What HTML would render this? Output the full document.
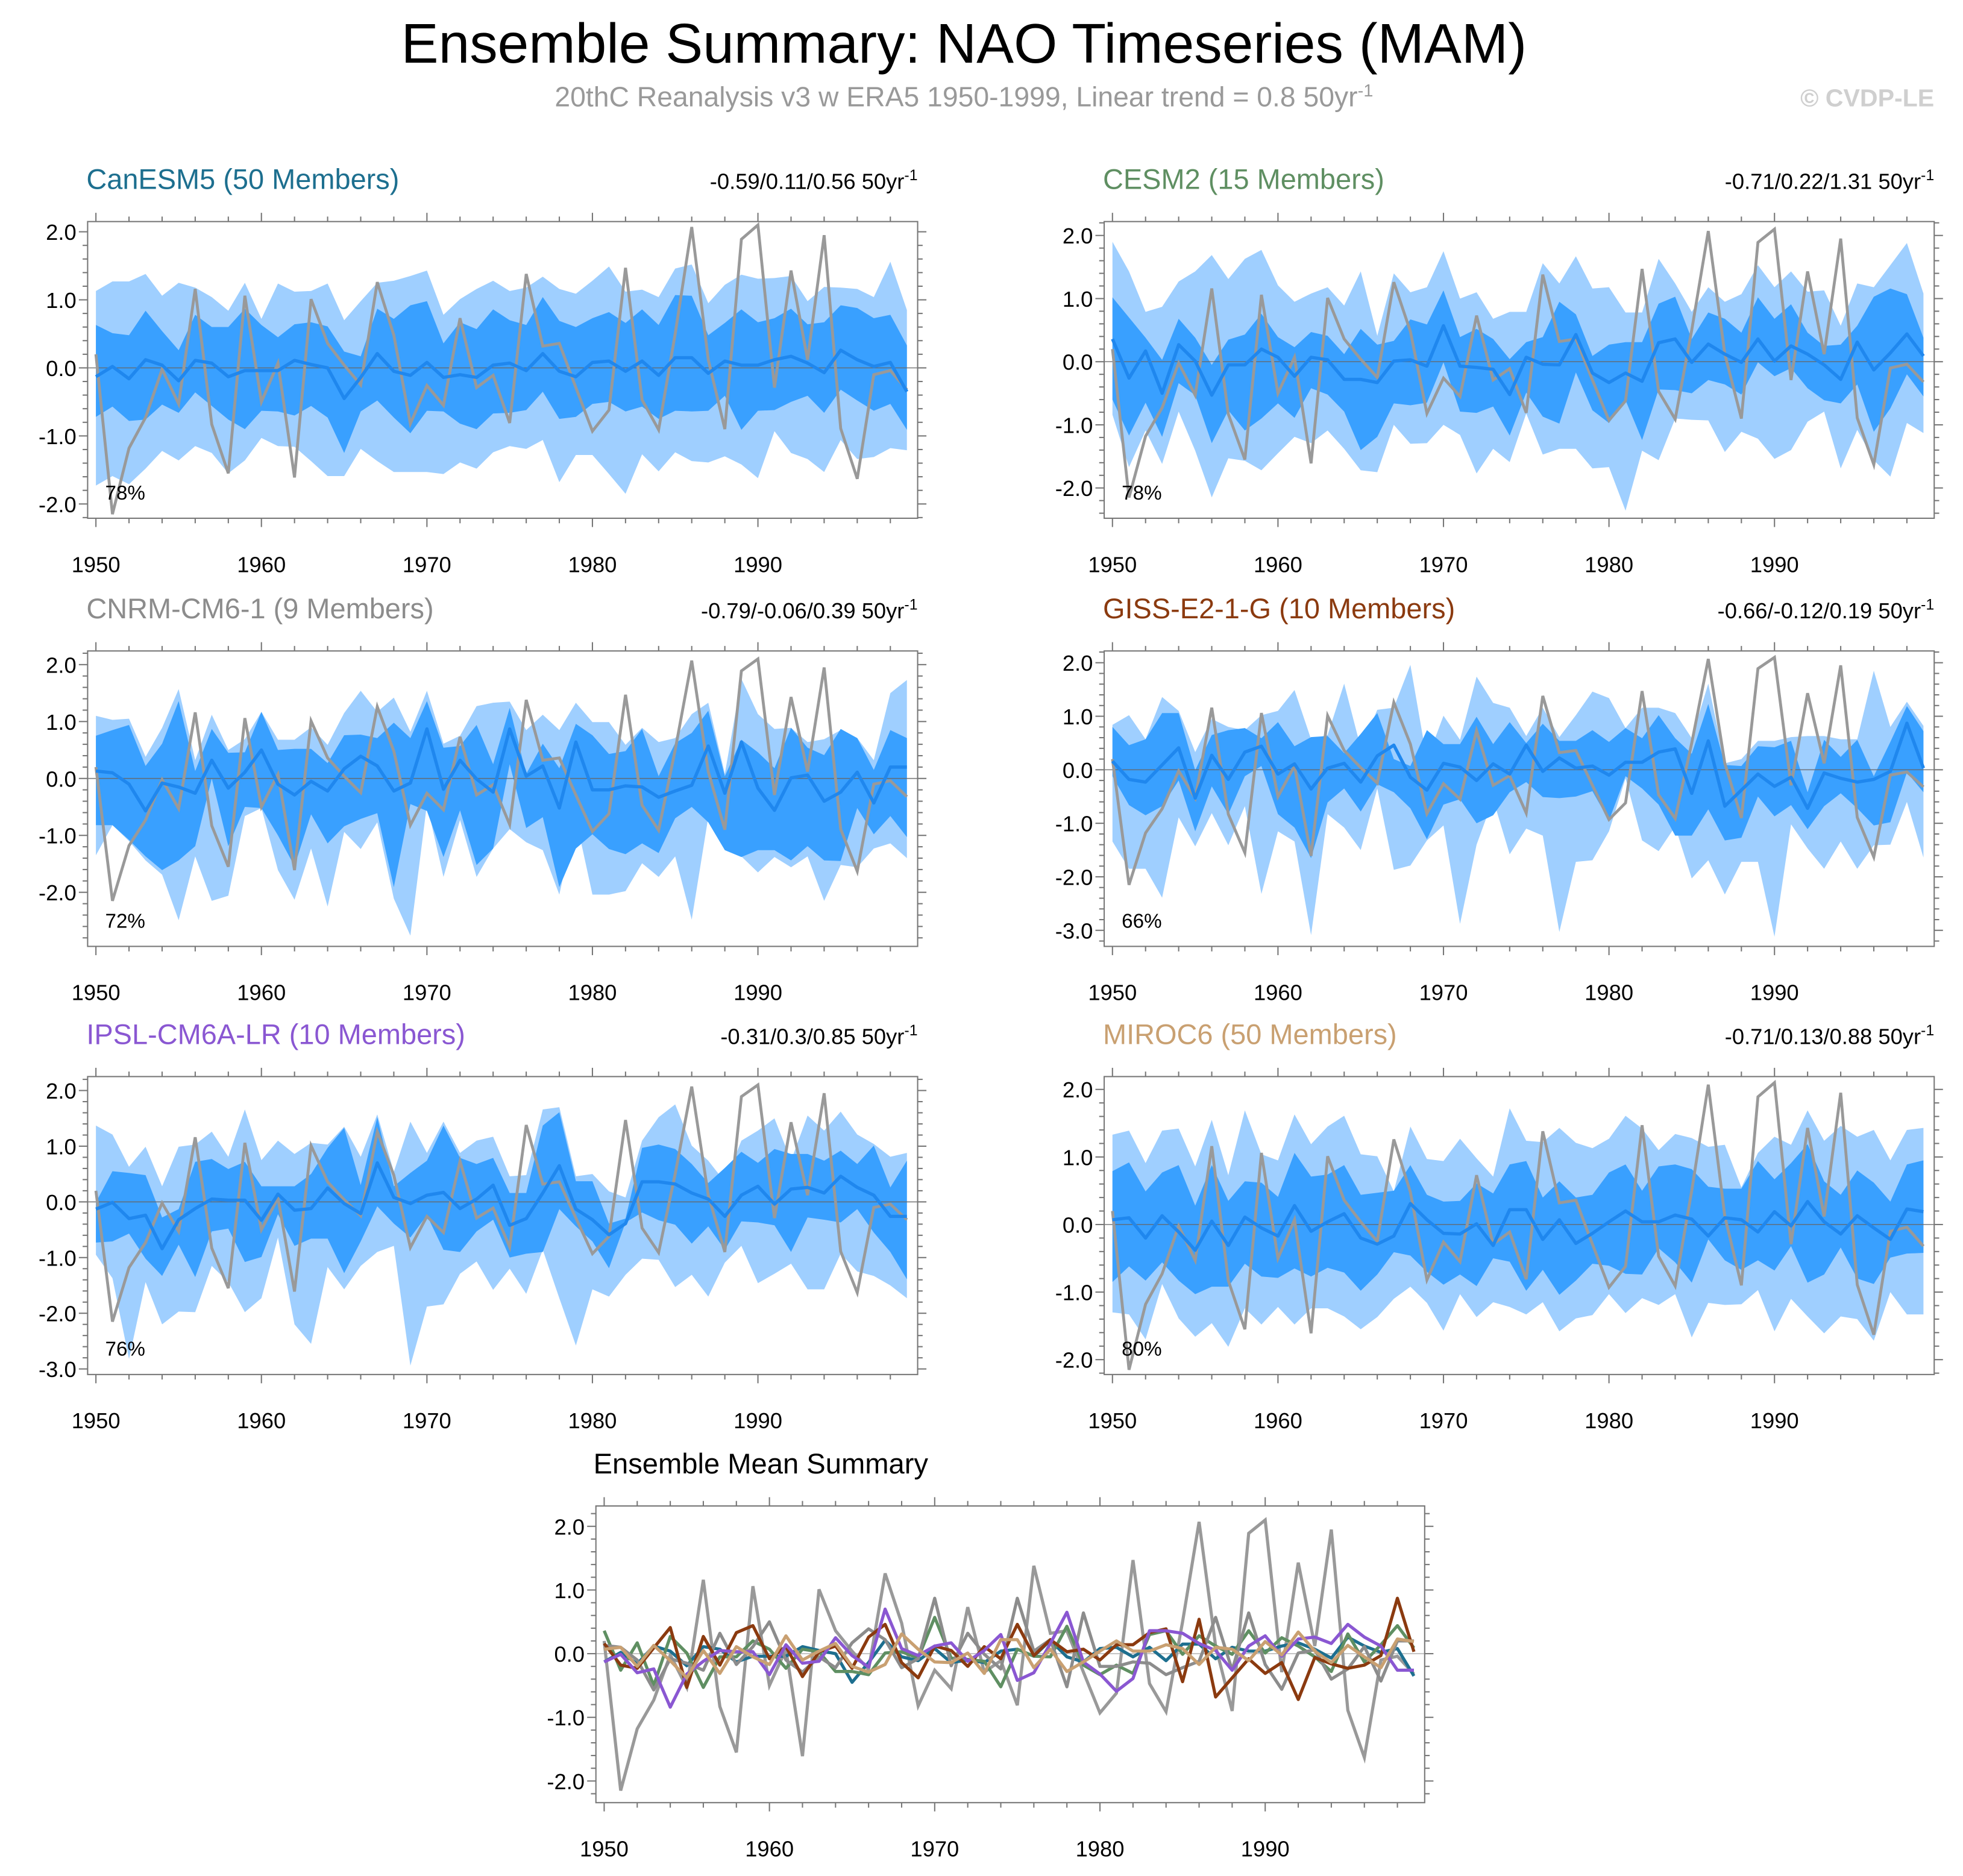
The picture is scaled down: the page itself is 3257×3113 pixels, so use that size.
<!DOCTYPE html>
<html><head><meta charset="utf-8"><title>Ensemble Summary: NAO Timeseries (MAM)</title>
<style>
html,body{margin:0;padding:0;background:#fff;}
svg{display:block;font-family:"Liberation Sans",Arial,sans-serif;}
</style></head>
<body>
<svg id="chart" xmlns="http://www.w3.org/2000/svg" width="3257" height="3113" viewBox="0 0 1568 1498.6" preserveAspectRatio="none">
<rect x="0" y="0" width="1568" height="1499" fill="#fff"/>
<text x="770" y="50" font-size="44.7" text-anchor="middle" fill="#000">Ensemble Summary: NAO Timeseries (MAM)</text>
<text x="770" y="85" font-size="22.3" text-anchor="middle" fill="#999">20thC Reanalysis v3 w ERA5 1950-1999, Linear trend = 0.8 50yr<tspan dy="-8" font-size="14">-1</tspan></text>
<text x="1545" y="85" font-size="19.8" font-weight="bold" text-anchor="end" fill="#cfcfcf">© CVDP-LE</text>
<g id="plots"></g>
</svg>
<script>
// ---- data ----
const years = [1950,1951,1952,1953,1954,1955,1956,1957,1958,1959,1960,1961,1962,1963,1964,1965,1966,1967,1968,1969,1970,1971,1972,1973,1974,1975,1976,1977,1978,1979,1980,1981,1982,1983,1984,1985,1986,1987,1988,1989,1990,1991,1992,1993,1994,1995,1996,1997,1998,1999];
const obs = [0.2,-2.15,-1.18,-0.73,-0.02,-0.53,1.16,-0.83,-1.55,1.06,-0.5,0.07,-1.61,1.01,0.36,0.04,-0.25,1.26,0.48,-0.82,-0.26,-0.55,0.73,-0.29,-0.11,-0.81,1.38,0.32,0.36,-0.29,-0.93,-0.62,1.47,-0.47,-0.91,0.5,2.07,0.12,-0.9,1.89,2.1,-0.29,1.43,0.12,1.95,-0.89,-1.63,-0.1,-0.04,-0.32];

const canMean = [-0.13,0.02,-0.16,0.12,0.04,-0.19,0.11,0.07,-0.13,-0.04,-0.04,-0.04,0.11,0.05,0,-0.45,-0.14,0.21,-0.05,-0.11,0.08,-0.14,-0.1,-0.14,0.04,0.07,-0.04,0.21,-0.05,-0.13,0.08,0.1,-0.05,0.1,-0.11,0.15,0.15,-0.08,0.1,0.04,0.04,0.12,0.17,0.07,-0.07,0.26,0.12,0.02,0.08,-0.35];
const canDarkHi = [0.63,0.51,0.48,0.84,0.54,0.26,0.78,0.6,0.6,0.87,0.63,0.45,0.64,0.67,0.61,0.24,0.17,0.87,0.72,0.92,0.98,0.36,0.67,0.57,0.86,0.7,0.63,1.04,0.69,0.6,0.73,0.82,0.66,0.86,0.63,1.07,1.06,0.48,0.66,0.86,0.67,0.73,0.87,0.64,0.67,0.92,0.88,0.73,0.78,0.33];
const canDarkLo = [-0.72,-0.57,-0.78,-0.76,-0.54,-0.66,-0.36,-0.56,-0.76,-0.9,-0.63,-0.64,-0.7,-0.56,-0.73,-1.25,-0.64,-0.48,-0.73,-0.96,-0.63,-0.64,-0.82,-0.9,-0.67,-0.66,-0.62,-0.35,-0.75,-0.72,-0.53,-0.5,-0.64,-0.57,-0.75,-0.63,-0.64,-0.63,-0.41,-0.91,-0.63,-0.62,-0.5,-0.41,-0.66,-0.32,-0.48,-0.63,-0.53,-0.91];
const canLightHi = [1.13,1.27,1.27,1.38,1.06,1.25,1.18,1.04,0.84,1.25,0.72,1.24,1.12,1.13,1.24,0.7,0.98,1.25,1.28,1.35,1.43,0.78,1.01,1.16,1.28,1.13,1.18,1.34,1.16,1.09,1.28,1.49,1.12,1.15,1.04,1.46,1.52,0.95,1.22,1.37,1.31,1.32,1.35,0.98,1.19,1.18,1.16,1.04,1.56,0.85];
const canLightLo = [-1.73,-1.59,-1.71,-1.48,-1.22,-1.36,-1.15,-1.25,-1.55,-1.36,-1.03,-1.15,-1.16,-1.37,-1.59,-1.59,-1.19,-1.37,-1.53,-1.53,-1.53,-1.56,-1.39,-1.48,-1.24,-1.15,-1.19,-1.06,-1.68,-1.28,-1.28,-1.56,-1.85,-1.27,-1.52,-1.24,-1.37,-1.39,-1.3,-1.42,-1.62,-0.93,-1.25,-1.34,-1.53,-1.06,-1.34,-1.31,-1.18,-1.21];

const cesmMean = [0.36,-0.26,0.17,-0.5,0.27,0.01,-0.53,-0.05,-0.05,0.2,0.07,-0.23,0.07,0.03,-0.28,-0.28,-0.33,0.01,0.03,-0.07,0.57,-0.07,-0.09,-0.12,-0.52,0.07,-0.04,-0.05,0.43,-0.18,-0.33,-0.18,-0.31,0.3,0.36,-0.01,0.28,0.12,-0.01,0.36,0.01,0.25,0.12,-0.05,-0.28,0.31,-0.13,0.14,0.44,0.09];
const cesmDarkHi = [1.02,0.7,0.38,0.03,0.68,0.38,-0.05,0.35,0.43,0.76,0.39,0.23,0.47,0.41,0.12,0.52,0.27,0.33,0.67,0.59,1.13,0.39,0.52,0.36,0.04,0.31,0.39,0.95,0.75,0.09,0.27,0.31,0.31,0.92,1.03,0.36,0.78,0.68,0.46,1.02,0.68,0.91,0.46,0.25,0.27,0.57,1.03,1.16,1.07,0.38];
const cesmDarkLo = [-0.6,-1.17,-0.65,-1.19,-0.34,-0.53,-1.29,-0.77,-1.09,-0.9,-0.66,-0.89,-0.42,-0.52,-0.79,-1.4,-1.19,-0.66,-0.69,-0.65,-0.01,-0.79,-0.81,-0.71,-1.17,-0.49,-0.87,-0.98,-0.17,-0.77,-0.97,-0.61,-1.24,-0.44,-0.45,-0.5,-0.29,-0.36,-0.52,-0.01,-0.23,-0.1,-0.42,-0.61,-0.66,-0.36,-1.11,-0.74,-0.2,-0.55];
const cesmLightHi = [1.9,1.43,0.79,0.87,1.27,1.43,1.69,1.31,1.63,1.77,1.21,0.95,1.08,1.18,0.89,1.43,0.41,1.4,1.1,1.18,1.75,1.0,1.1,0.68,0.79,0.79,1.56,1.24,1.67,1.16,1.18,0.78,0.78,1.63,1.24,0.79,1.18,0.95,1.07,1.53,1.18,1.43,1.11,1.13,0.57,1.24,1.18,1.53,1.88,1.08];
const cesmLightLo = [-0.84,-1.67,-1.09,-1.62,-0.79,-1.41,-2.15,-1.53,-1.57,-1.72,-1.45,-1.19,-1.29,-1.09,-1.38,-1.72,-1.75,-1.0,-1.3,-1.29,-1.0,-1.16,-1.77,-1.38,-1.59,-0.82,-1.47,-1.38,-1.38,-1.69,-1.67,-2.36,-1.41,-1.56,-0.9,-0.92,-0.93,-1.43,-1.11,-1.22,-1.54,-1.4,-0.95,-0.79,-1.69,-1.08,-1.56,-1.82,-0.97,-1.13];

const cnrmMean = [0.13,0.1,-0.1,-0.57,-0.08,-0.15,-0.26,0.32,-0.17,0.11,0.5,-0.1,-0.29,-0.05,-0.22,0.17,0.39,0.22,-0.22,-0.08,0.87,-0.19,0.32,-0.01,-0.24,0.87,0.04,0.22,-0.52,0.64,-0.2,-0.2,-0.13,-0.15,-0.33,-0.22,-0.12,0.57,-0.26,0.64,-0.17,-0.56,0.01,0.06,-0.4,-0.24,0.11,-0.43,0.2,0.2];
const cnrmDarkHi = [0.75,0.85,0.94,0.22,0.61,1.36,0.13,0.87,0.45,0.46,1.17,0.5,0.52,0.52,0.27,0.76,0.77,0.71,0.98,0.71,1.36,0.54,0.57,0.94,0.25,1.24,0.08,0.61,0.18,0.96,0.76,0.43,0.48,0.87,0.04,0.62,0.8,1.19,0.04,0.68,0.46,0.18,0.89,0.54,0.41,0.87,0.71,0.15,0.85,0.71];
const cnrmDarkLo = [-0.82,-0.82,-1.08,-1.37,-1.61,-1.44,-1.19,0,-1.19,-0.5,-0.52,-1.0,-1.54,-0.63,-1.14,-0.84,-0.71,-0.61,-1.91,-0.45,-0.57,-1.38,-0.56,-1.52,-1.23,0.25,-0.87,-0.68,-1.91,-1.23,-0.98,-1.24,-1.33,-1.14,-1.31,-0.7,-0.5,-0.77,-1.26,-1.38,-1.26,-1.26,-1.44,-1.19,-1.44,-1.45,-0.52,-0.98,-0.66,-1.03];
const cnrmLightHi = [1.1,1.03,1.05,0.38,0.89,1.57,0.32,1.12,0.5,0.69,1.17,0.68,0.68,0.9,0.59,1.15,1.54,1.17,1.42,0.82,1.54,0.61,0.75,1.27,1.33,1.35,0.85,1.12,0.85,1.33,0.99,0.99,0.59,0.89,0.64,0.71,1.13,1.33,0.08,1.75,1.13,0.87,0.89,0.64,0.69,0.85,0.71,0.32,1.5,1.73];
const cnrmLightLo = [-1.35,-0.82,-1.1,-1.44,-1.69,-2.49,-1.37,-2.15,-2.06,-0.66,-0.52,-1.61,-2.13,-1.23,-2.25,-0.94,-1.24,-0.77,-2.11,-2.76,-0.45,-1.73,-0.73,-1.73,-1.23,-0.89,-1.12,-1.26,-2.04,-0.7,-2.04,-2.04,-1.98,-1.49,-1.73,-1.37,-2.48,-0.68,-0.93,-1.37,-1.65,-1.38,-1.56,-1.37,-2.15,-1.52,-1.56,-1.23,-1.14,-1.4];

const gissMean = [0.16,-0.18,-0.23,0.09,0.41,-0.53,0.27,-0.18,0.33,0.44,-0.08,0.11,-0.36,0.03,0.12,-0.23,0.26,0.46,-0.14,-0.38,0.12,0.05,-0.2,0.11,-0.08,0.46,-0.03,0.22,0.03,0.07,-0.1,0.14,0.14,0.33,0.39,-0.44,0.54,-0.68,-0.38,-0.08,-0.31,-0.14,-0.72,-0.06,-0.16,-0.23,-0.18,-0.03,0.87,0.03];
const gissDarkHi = [0.8,0.46,0.57,1.06,1.06,-0.01,0.65,0.74,0.78,0.59,0.89,0.44,0.61,0.63,0.31,0.67,1.06,0.2,0.07,0.74,0.48,0.48,0.99,0.48,0.89,0.5,0.86,0.54,0.54,0.74,0.52,0.78,0.59,1.02,0.59,0.3,1.23,0.09,0.07,0.44,0.42,0.54,-0.42,0.56,0.24,0.56,-0.12,0.52,1.19,0.72];
const gissDarkLo = [-0.12,-0.66,-0.85,-0.68,-0.2,-1.15,-0.31,-0.83,-0.12,0.07,-0.83,-1.08,-1.65,-0.61,-0.35,-0.78,-0.27,-0.42,-0.72,-1.3,-0.65,-0.55,-1.0,-0.85,-0.42,-0.23,-0.51,-0.53,-0.5,-0.4,-0.95,-0.12,-0.35,-0.65,-1.23,-1.23,-0.74,-1.32,-1.27,-0.5,-0.87,-0.66,-1.11,-0.68,-0.44,-0.72,-1.04,-0.98,-0.05,-0.42];
const gissLightHi = [0.84,1.02,0.57,1.36,1.1,0.33,0.95,0.8,0.74,1.02,1.1,1.49,0.57,0.65,1.61,0.41,1.12,1.16,1.96,0.18,1.01,0.56,1.74,1.25,1.16,0.63,1.16,0.61,1.02,1.46,1.34,0.78,1.16,1.16,1.06,0.59,1.61,0.12,0.2,0.54,0.54,0.61,0.63,0.63,0.57,0.57,1.85,0.8,1.27,0.82];
const gissLightLo = [-1.34,-1.85,-1.85,-2.39,-0.89,-1.43,-0.81,-1.41,-0.68,-2.32,-1.15,-1.34,-3.09,-0.83,-1.08,-1.5,-0.35,-1.87,-1.79,-1.32,-1.04,-2.88,-1.4,-0.55,-1.58,-1.1,-1.23,-3.03,-1.72,-1.69,-1.15,-0.16,-1.32,-1.52,-1.06,-2.03,-1.69,-2.33,-1.72,-1.72,-3.12,-1.02,-1.47,-1.85,-1.34,-1.85,-1.41,-1.4,-0.6,-1.64];

const ipslMean = [-0.13,-0.01,-0.3,-0.24,-0.84,-0.32,-0.12,0.05,0.03,0.03,-0.33,0.14,-0.15,-0.12,0.25,-0.03,-0.21,0.7,0.08,-0.03,0.12,0.17,-0.12,0.05,0.3,-0.42,-0.3,0.16,0.65,-0.13,-0.32,-0.59,-0.39,0.36,0.36,0.32,0.16,0.05,-0.26,0.12,0.28,-0.04,0.23,0.26,0.16,0.46,0.26,0.12,-0.26,-0.26];
const ipslDarkHi = [-0.01,0.55,0.52,0.48,-0.28,-0.13,0.72,0.77,0.59,0.72,0.28,0.28,0.28,0.5,0.97,1.33,0.3,1.52,0.28,0.52,0.74,1.37,0.79,0.68,0.79,0.16,0.16,1.37,1.61,0.37,0.37,-0.39,-0.3,0.97,1.03,0.95,0.68,0.34,0.61,0.9,0.7,0.95,0.86,0.86,0.74,0.92,0.68,1.01,0.26,0.74];
const ipslDarkLo = [-0.73,-0.71,-0.57,-1.02,-1.33,-0.77,-1.35,-0.53,-0.48,-1.08,-0.99,-0.22,-0.79,-0.66,-0.66,-1.28,-0.71,-0.08,-0.39,-0.64,-0.24,-0.86,-0.9,-0.53,-0.32,-1.0,-0.93,-0.9,-0.13,-0.44,-0.71,-1.19,-0.37,-0.19,-0.33,-0.41,-0.75,-0.44,-0.86,-0.35,-0.37,-0.42,-0.9,-0.28,-0.32,-0.37,-0.13,-0.55,-0.9,-1.39];
const ipslLightHi = [1.37,1.21,0.63,0.99,0.28,0.99,1.03,1.26,0.81,1.66,0.75,1.1,0.86,1.06,1.03,1.35,0.81,1.57,0.54,1.44,0.88,1.44,0.88,1.1,1.17,0.46,0.48,1.66,1.7,0.46,0.5,0.19,0.08,1.1,1.52,1.75,1.01,0.74,0.36,1.1,1.28,1.5,0.74,1.55,1.28,1.62,1.21,1.04,0.81,0.88];
const ipslLightLo = [-0.95,-1.37,-2.82,-1.44,-2.2,-1.97,-1.98,-1.15,-1.44,-1.98,-1.73,-0.64,-2.2,-2.55,-1.17,-1.57,-1.15,-0.9,-0.79,-2.94,-1.88,-1.84,-1.29,-1.07,-1.58,-1.2,-1.65,-0.86,-1.73,-2.58,-1.57,-1.7,-1.31,-1.02,-1.04,-1.53,-1.31,-1.7,-1.09,-0.79,-1.46,-1.29,-1.11,-1.57,-1.57,-0.93,-1.25,-1.33,-1.5,-1.73];

const mirocMean = [0.07,0.1,-0.2,0.13,-0.11,-0.38,0.05,-0.31,0.11,-0.05,-0.17,0.28,-0.1,0.04,0.16,-0.2,-0.29,-0.17,0.31,0.07,-0.13,-0.14,0.01,-0.31,0.22,0.22,-0.22,0.07,-0.28,-0.13,0.04,0.2,0.04,0.04,0.14,0.08,-0.17,0.1,0.07,-0.11,0.19,-0.02,0.34,0.04,-0.14,0.13,-0.05,-0.22,0.23,0.19];
const mirocDarkHi = [0.79,0.92,0.49,0.77,0.88,0.28,0.88,0.35,0.64,0.62,0.41,1.06,0.71,0.74,0.88,0.44,0.47,0.5,0.88,0.44,0.34,0.35,0.61,0.46,0.89,0.94,0.4,0.64,0.4,0.44,0.77,0.89,0.5,0.86,0.89,0.82,0.56,0.53,0.53,0.94,0.67,0.91,1.19,0.64,0.44,0.8,0.62,0.34,0.89,0.95];
const mirocDarkLo = [-0.85,-0.62,-0.83,-0.56,-0.83,-1.03,-0.92,-0.92,-0.58,-0.77,-0.79,-0.65,-0.77,-0.64,-0.71,-0.98,-0.74,-0.41,-0.46,-0.7,-0.89,-0.74,-0.91,-0.5,-0.55,-0.98,-0.67,-1.04,-0.83,-0.58,-0.61,-0.73,-0.74,-0.35,-0.56,-0.86,-0.22,-0.53,-0.67,-0.53,-0.68,-0.32,-0.86,-0.74,-0.34,-0.8,-0.88,-0.49,-0.43,-0.42];
const mirocLightHi = [1.33,1.39,0.91,1.39,1.42,0.86,1.55,0.73,1.69,1.04,0.95,1.63,1.19,1.45,1.61,1.04,1.01,0.49,1.45,0.97,0.94,1.27,0.98,0.71,1.72,1.24,1.22,1.43,1.21,1.13,1.27,1.61,1.42,1.1,1.34,1.28,1.15,1.18,0.55,1.06,1.3,1.18,1.69,1.24,1.46,1.3,1.4,0.95,1.4,1.43];
const mirocLightLo = [-1.3,-1.33,-1.7,-0.88,-1.39,-1.66,-1.46,-1.81,-1.24,-1.48,-1.22,-1.48,-1.24,-1.24,-1.36,-1.55,-1.37,-1.1,-0.92,-1.16,-1.57,-1.03,-1.37,-1.15,-1.22,-1.33,-1.15,-1.58,-1.39,-1.34,-1.03,-1.31,-1.09,-1.19,-1.03,-1.67,-1.16,-1.19,-1.18,-0.97,-1.58,-1.1,-1.36,-1.61,-1.36,-1.4,-1.72,-1.0,-1.33,-1.33];

const xTickLabels = ["1950","1960","1970","1980","1990"];
const xTickYears = [1950,1960,1970,1980,1990];

// ---- layout (geometry only) ----
const XMIN = 1949.5, XMAX = 1999.65;
const NS = "http://www.w3.org/2000/svg";
const root = document.getElementById('plots');

const panels = [
 {key:'canesm5', title:'CanESM5 (50 Members)', color:'#1d6f8f', trend:'-0.59/0.11/0.56 50yr', pct:'78%',
  left:70, right:733, top:177, bottom:414, ymin:-2.21, ymax:2.15, ticks:[2,1,0,-1,-2],
  mean:canMean, dHi:canDarkHi, dLo:canDarkLo, lHi:canLightHi, lLo:canLightLo},
 {key:'cesm2', title:'CESM2 (15 Members)', color:'#5f8f62', trend:'-0.71/0.22/1.31 50yr', pct:'78%',
  left:882, right:1545, top:177, bottom:414, ymin:-2.48, ymax:2.22, ticks:[2,1,0,-1,-2],
  mean:cesmMean, dHi:cesmDarkHi, dLo:cesmDarkLo, lHi:cesmLightHi, lLo:cesmLightLo},
 {key:'cnrm-cm6-1', title:'CNRM-CM6-1 (9 Members)', color:'#8c8c8c', trend:'-0.79/-0.06/0.39 50yr', pct:'72%',
  left:70, right:733, top:520, bottom:756, ymin:-2.95, ymax:2.24, ticks:[2,1,0,-1,-2],
  mean:cnrmMean, dHi:cnrmDarkHi, dLo:cnrmDarkLo, lHi:cnrmLightHi, lLo:cnrmLightLo},
 {key:'giss-e2-1-g', title:'GISS-E2-1-G (10 Members)', color:'#8b3a0f', trend:'-0.66/-0.12/0.19 50yr', pct:'66%',
  left:882, right:1545, top:520, bottom:756, ymin:-3.3, ymax:2.22, ticks:[2,1,0,-1,-2,-3],
  mean:gissMean, dHi:gissDarkHi, dLo:gissDarkLo, lHi:gissLightHi, lLo:gissLightLo},
 {key:'ipsl-cm6a-lr', title:'IPSL-CM6A-LR (10 Members)', color:'#8a57d2', trend:'-0.31/0.3/0.85 50yr', pct:'76%',
  left:70, right:733, top:860, bottom:1098, ymin:-3.1, ymax:2.25, ticks:[2,1,0,-1,-2,-3],
  mean:ipslMean, dHi:ipslDarkHi, dLo:ipslDarkLo, lHi:ipslLightHi, lLo:ipslLightLo},
 {key:'miroc6', title:'MIROC6 (50 Members)', color:'#c9a071', trend:'-0.71/0.13/0.88 50yr', pct:'80%',
  left:882, right:1545, top:860, bottom:1098, ymin:-2.22, ymax:2.19, ticks:[2,1,0,-1,-2],
  mean:mirocMean, dHi:mirocDarkHi, dLo:mirocDarkLo, lHi:mirocLightHi, lLo:mirocLightLo}
];
const summary = {key:'ensemble-mean-summary', left:476, right:1138, top:1203, bottom:1440, ymin:-2.34, ymax:2.32, ticks:[2,1,0,-1,-2]};

function xS(p, yr){ return p.left + (yr - XMIN) / (XMAX - XMIN) * (p.right - p.left); }
function yS(p, v){ return p.top + (p.ymax - v) / (p.ymax - p.ymin) * (p.bottom - p.top); }
function mk(tag, attrs, parent){
  const el = document.createElementNS(NS, tag);
  for (const k in attrs) el.setAttribute(k, attrs[k]);
  parent.appendChild(el);
  return el;
}
function linePts(p, vals){ return vals.map((v,i)=> xS(p, years[i]).toFixed(2)+','+yS(p, v).toFixed(2)).join(' '); }
function bandPts(p, hi, lo){
  const a = hi.map((v,i)=> xS(p, years[i]).toFixed(2)+','+yS(p, v).toFixed(2));
  const b = lo.map((v,i)=> xS(p, years[i]).toFixed(2)+','+yS(p, v).toFixed(2)).reverse();
  return a.concat(b).join(' ');
}

function drawAxes(p, g){
  const box = mk('rect', {x:p.left, y:p.top, width:p.right-p.left, height:p.bottom-p.top, fill:'none', stroke:'#777', 'stroke-width':1}, g);
  
  
  for (let yr = 1950; yr <= 1998; yr += 2) {
    const x = xS(p, yr);
    const major = (yr % 10 === 0);
    const len = major ? 7 : 4;
    const tb = mk('line', {x1:x, x2:x, y1:p.bottom, y2:p.bottom+len, stroke:'#777', 'stroke-width':1}, g);
    
    
    const tt = mk('line', {x1:x, x2:x, y1:p.top, y2:p.top-len, stroke:'#777', 'stroke-width':1}, g);
    
    
  }
  xTickYears.forEach((yr, i) => {
    const t = mk('text', {x:xS(p, yr), y:p.bottom+43, 'font-size':17.5, 'text-anchor':'middle', fill:'#000'}, g);
    t.textContent = xTickLabels[i];
    
    
  });
  const lo = Math.ceil(p.ymin * 5), hi = Math.floor(p.ymax * 5);
  for (let k = lo; k <= hi; k++) {
    const v = k / 5, y = yS(p, v);
    const major = (k % 5 === 0);
    const len = major ? 7 : 4;
    const tl = mk('line', {x1:p.left, x2:p.left-len, y1:y, y2:y, stroke:'#777', 'stroke-width':1}, g);
    
    
    const tr = mk('line', {x1:p.right, x2:p.right+len, y1:y, y2:y, stroke:'#777', 'stroke-width':1}, g);
    
    
  }
  p.ticks.forEach(v => {
    const t = mk('text', {x:p.left-9, y:yS(p, v)+6.5, 'font-size':17.5, 'text-anchor':'end', fill:'#000'}, g);
    t.textContent = v.toFixed(1);
    
    
  });
}

panels.forEach(p => {
  const g = mk('g', {}, root);
  
  
  const lb = mk('polygon', {points:bandPts(p, p.lHi, p.lLo), fill:'#9fcfff'}, g);
  
  
  const db = mk('polygon', {points:bandPts(p, p.dHi, p.dLo), fill:'#39a0ff'}, g);
  
  
  const z = mk('line', {x1:p.left, x2:p.right, y1:yS(p,0), y2:yS(p,0), stroke:'#666', 'stroke-width':0.8, opacity:0.8}, g);
  
  
  const ol = mk('polyline', {points:linePts(p, obs), fill:'none', stroke:'#999', 'stroke-width':2.3, 'stroke-linejoin':'miter'}, g);
  
  
  const ml = mk('polyline', {points:linePts(p, p.mean), fill:'none', stroke:'#1f87ee', 'stroke-width':2.6, 'stroke-linejoin':'round'}, g);
  
  
  drawAxes(p, g);
  const tt = mk('text', {x:p.left-1, y:p.top-26, 'font-size':22.6, fill:p.color}, g);
  tt.textContent = p.title;
  
  
  const tr = mk('text', {x:p.right, y:p.top-26, 'font-size':17.5, 'text-anchor':'end', fill:'#000'}, g);
  tr.textContent = p.trend;
  const sup = mk('tspan', {dy:-7, 'font-size':12}, tr);
  sup.textContent = '-1';
  
  
  const pc = mk('text', {x:p.left+14, y:p.bottom-15, 'font-size':16, fill:'#000'}, g);
  pc.textContent = p.pct;
  
  
});

(function(){
  const p = summary;
  const g = mk('g', {}, root);
  
  
  const z = mk('line', {x1:p.left, x2:p.right, y1:yS(p,0), y2:yS(p,0), stroke:'#888', 'stroke-width':0.8, opacity:0.6}, g);
  
  
  const ol = mk('polyline', {points:linePts(p, obs), fill:'none', stroke:'#999', 'stroke-width':2.5}, g);
  
  
  panels.forEach(m => {
    const l = mk('polyline', {points:linePts(p, m.mean), fill:'none', stroke:m.color, 'stroke-width':2.5, 'stroke-linejoin':'round'}, g);
    
    
  });
  drawAxes(p, g);
  const tt = mk('text', {x:p.left-2, y:p.top-26, 'font-size':22.7, fill:'#000'}, g);
  tt.textContent = 'Ensemble Mean Summary';
  
  
})();
</script>
</body></html>
